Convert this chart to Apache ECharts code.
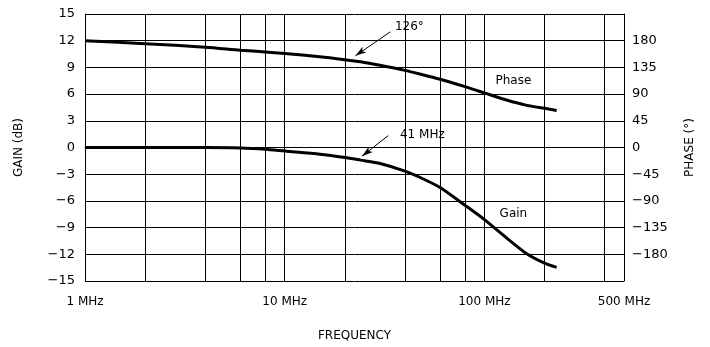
<!DOCTYPE html>
<html>
<head>
<meta charset="utf-8">
<script src="https://cdn.jsdelivr.net/npm/echarts@6/dist/echarts.min.js"></script>
<style>
  html, body { margin: 0; padding: 0; background: #fff; }
  #main { width: 710px; height: 347px; }
</style>
</head>
<body>
<div id="main"></div>
<script>
// frequency points (MHz)
var freq = [1, 2, 4, 6, 8, 10, 15, 20, 24, 30, 40, 48, 60, 80, 100, 129, 163, 200, 230];
// gain in dB
var gainDb = [0, 0, 0, -0.05, -0.2, -0.4, -0.75, -1.12, -1.42, -1.8, -2.65, -3.4, -4.5, -6.5, -8.1, -10.15, -11.94, -13.0, -13.47];
// phase in degrees
var phaseDeg = [180, 175, 169, 164, 161, 158.5, 153, 148, 144.4, 138.5, 130, 123.5, 115, 102.5, 92, 80, 71, 66, 62.5];

// extra vertical grid lines (MHz)
var minorFreq = [2, 4, 6, 8, 20, 40, 60, 80, 200, 400];

// annotations: [freq, value, text]
var gainNotes = [[48.9, 1.45, '41 MHz'], [139.7, -7.5, 'Gain']];
var phaseNotes = [[42.1, 203, '126°'], [139.7, 113, 'Phase']];
// arrows: [fromFreq, fromVal, toFreq, toVal]
var gainArrow = [33.0, 1.34, 24.4, -0.97];
var phaseArrow = [33.8, 195, 22.6, 154.5];

var FONT = 'DejaVu Sans';

function minus(v) {
    return String(v).replace('-', '\u2212');
}

function pairs(ys) {
    return freq.map(function (f, i) { return [f, ys[i]]; });
}

function notePoints(notes) {
    return notes.map(function (n) {
        return { coord: [n[0], n[1]], value: n[2] };
    });
}

function arrowLine(a) {
    return [
        { coord: [a[0], a[1]], symbol: 'none' },
        { coord: [a[2], a[3]], symbol: 'arrow', symbolSize: [5, 11] }
    ];
}

var chartDom = document.getElementById('main');
var myChart = echarts.init(chartDom);

var markLabel = {
    show: true,
    position: 'inside',
    color: '#000',
    fontFamily: FONT,
    fontSize: 12,
    formatter: function (p) { return p.value; }
};

var option = {
    animation: false,
    textStyle: { fontFamily: FONT },
    grid: { left: 85, right: 86, top: 14, bottom: 65 },
    xAxis: {
        type: 'log',
        logBase: 10,
        min: 1,
        max: 500,
        name: 'FREQUENCY',
        nameLocation: 'middle',
        nameGap: 49,
        nameTextStyle: { color: '#000', fontSize: 12, fontFamily: FONT },
        axisLine: { show: true, lineStyle: { color: '#000', width: 1 } },
        axisTick: { show: false },
        axisLabel: {
            color: '#000',
            fontSize: 12,
            margin: 15,
            showMaxLabel: true,
            formatter: function (v) { return Math.round(v) + ' MHz'; }
        },
        splitLine: { show: true, lineStyle: { color: '#000', width: 1 } }
    },
    yAxis: [
        {
            type: 'value',
            min: -15,
            max: 15,
            interval: 3,
            name: 'GAIN (dB)',
            nameLocation: 'middle',
            nameGap: 60,
            nameTextStyle: { color: '#000', fontSize: 12, fontFamily: FONT },
            axisLine: { show: true, lineStyle: { color: '#000', width: 1 } },
            axisTick: { show: false },
            axisLabel: { color: '#000', fontSize: 13, margin: 10, formatter: minus },
            splitLine: { show: true, lineStyle: { color: '#000', width: 1 } }
        },
        {
            type: 'value',
            min: -225,
            max: 225,
            interval: 45,
            position: 'right',
            name: 'PHASE (°)',
            nameLocation: 'middle',
            nameGap: 60,
            nameTextStyle: { color: '#000', fontSize: 12, fontFamily: FONT },
            axisLine: { show: true, lineStyle: { color: '#000', width: 1 } },
            axisTick: { show: false },
            axisLabel: {
                color: '#000',
                fontSize: 13,
                margin: 8,
                formatter: function (v) { return Math.abs(v) > 180 ? '' : minus(v); }
            },
            splitLine: { show: false }
        }
    ],
    series: [
        {
            name: 'Gain',
            type: 'line',
            yAxisIndex: 0,
            data: pairs(gainDb),
            smooth: 0.25,
            showSymbol: false,
            lineStyle: { color: '#000', width: 3 },
            itemStyle: { color: '#000' },
            markLine: {
                silent: true,
                symbol: ['none', 'none'],
                label: { show: false },
                lineStyle: { color: '#000', width: 1, type: 'solid' },
                data: minorFreq.map(function (f) { return { xAxis: f }; })
                    .concat([arrowLine(gainArrow)])
            },
            markPoint: {
                silent: true,
                symbol: 'circle',
                symbolSize: 1,
                itemStyle: { color: 'rgba(0,0,0,0)' },
                label: markLabel,
                data: notePoints(gainNotes)
            }
        },
        {
            name: 'Phase',
            type: 'line',
            yAxisIndex: 1,
            data: pairs(phaseDeg),
            smooth: 0.25,
            showSymbol: false,
            lineStyle: { color: '#000', width: 3 },
            itemStyle: { color: '#000' },
            markLine: {
                silent: true,
                symbol: ['none', 'none'],
                label: { show: false },
                lineStyle: { color: '#000', width: 1, type: 'solid' },
                data: [arrowLine(phaseArrow)]
            },
            markPoint: {
                silent: true,
                symbol: 'circle',
                symbolSize: 1,
                itemStyle: { color: 'rgba(0,0,0,0)' },
                label: markLabel,
                data: notePoints(phaseNotes)
            }
        }
    ]
};

option && myChart.setOption(option);
</script>
</body>
</html>
